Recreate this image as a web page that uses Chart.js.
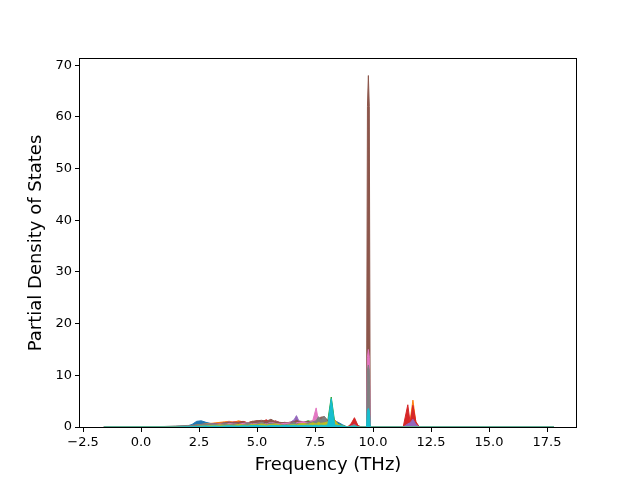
<!DOCTYPE html>
<html>
<head>
<meta charset="utf-8">
<script src="https://cdn.jsdelivr.net/npm/chart.js@4.4.1/dist/chart.umd.min.js"></script>
<style>
  html, body { margin: 0; padding: 0; background: #ffffff; }
  #pdos { display: block; }
</style>
</head>
<body>
<canvas id="pdos" width="640" height="480"></canvas>
<script>
// Frequency grid (THz) shared by every partial DOS curve
const frequencies = [
  -1.6, 1.0, 1.5, 2.0,
  2.2, 2.4, 2.6, 2.8, 3.0,
  3.2, 3.4, 3.6, 3.8, 4.0,
  4.2, 4.4, 4.6, 4.8, 5.0,
  5.2, 5.4, 5.6, 5.8, 6.0,
  6.2, 6.4, 6.6, 6.7, 6.8,
  7.0, 7.2, 7.4, 7.55, 7.65,
  7.75, 7.9, 8.05, 8.2, 8.35,
  8.5, 8.7, 8.9, 9.05, 9.2,
  9.35, 9.5, 9.72, 9.76, 9.8, 9.84, 9.88,
  10.1, 11.3, 11.5, 11.6, 11.72,
  11.85, 12.0, 17.8
];

// Partial density of states, one list per projection
const pdos0 = [0, 0, 0.1, 0.2, 0.5, 1.1, 1.2, 0.9, 0.7, 0.6, 0.8, 0.5, 0.6, 0.7, 0.6, 0.5, 0.7, 0.6, 0.8, 0.7, 0.6, 0.8, 0.7, 0.6, 0.6, 0.5, 0.7, 0.6, 0.5, 0.6, 0.7, 0.8, 0.6, 0.7, 0.8, 0.9, 0.8, 1.0, 1.2, 0.9, 0.4, 0, 0.3, 1.5, 0.2, 0, 0, 0.8, 1.0, 0.8, 0, 0, 0, 0.3, 0.5, 1.2, 0.2, 0, 0];
const pdos1 = [0, 0, 0, 0.05, 0.2, 0.4, 0.5, 0.6, 0.7, 0.8, 0.9, 1.0, 1.1, 0.9, 1.2, 1.0, 0.8, 1.1, 0.9, 1.0, 1.2, 0.9, 1.1, 0.8, 0.9, 0.7, 0.8, 0.6, 0.7, 0.8, 0.9, 0.6, 1.0, 1.2, 0.9, 1.1, 0.8, 1.2, 1.4, 0.5, 0.2, 0, 0.4, 1.2, 0, 0, 0, 0.4, 0.5, 0.4, 0, 0, 0, 1.5, 1.2, 5.2, 0.8, 0, 0];
const pdos2 = [0, 0, 0, 0, 0.1, 0.3, 0.4, 0.5, 0.4, 0.5, 0.6, 0.4, 0.5, 0.6, 0.7, 0.5, 0.6, 0.8, 0.7, 0.9, 0.6, 0.7, 0.8, 0.6, 0.7, 0.6, 0.9, 0.8, 1.0, 0.9, 1.2, 1.0, 0.8, 1.1, 1.2, 0.9, 1.2, 5.8, 0.9, 0.6, 0.2, 0, 0.2, 0.4, 0, 0, 0, 0.2, 0.3, 0.2, 0, 0, 0, 1.0, 0.4, 0.6, 0.1, 0, 0];
const pdos3 = [0, 0, 0, 0, 0.1, 0.2, 0.3, 0.3, 0.4, 0.5, 0.6, 0.7, 0.8, 1.0, 0.9, 1.1, 0.8, 1.0, 1.2, 1.0, 1.4, 0.9, 1.2, 0.8, 0.7, 0.9, 0.8, 1.2, 0.9, 0.8, 1.0, 0.9, 1.6, 1.3, 1.5, 1.8, 1.1, 0.8, 0.9, 0.4, 0.1, 0, 0.6, 1.8, 0.3, 0, 0, 0.5, 0.6, 0.5, 0, 0, 0, 4.3, 0.8, 4.2, 1.0, 0, 0];
const pdos4 = [0, 0, 0, 0, 0.1, 0.3, 0.4, 0.5, 0.6, 0.7, 0.6, 0.8, 1.0, 0.7, 0.8, 0.9, 0.7, 0.8, 0.9, 0.8, 1.0, 0.9, 1.1, 0.8, 0.9, 0.8, 1.4, 2.2, 1.2, 1.0, 0.9, 1.1, 1.3, 1.0, 1.0, 1.1, 0.9, 1.0, 0.8, 0.3, 0.1, 0, 0.2, 0.5, 0, 0, 0, 0.6, 0.8, 0.6, 0, 0, 0, 0.6, 0.8, 1.5, 0.5, 0, 0];
const pdos5 = [0, 0, 0, 0, 0.1, 0.2, 0.3, 0.4, 0.5, 0.6, 0.7, 0.8, 0.9, 0.8, 0.9, 1.0, 0.8, 1.1, 1.2, 1.3, 1.1, 1.5, 1.0, 0.9, 0.8, 0.9, 1.0, 1.3, 1.1, 0.9, 1.0, 1.2, 1.4, 1.6, 1.9, 2.0, 1.3, 0.6, 0.4, 0.2, 0.1, 0, 0.1, 0.3, 0, 0, 0, 62, 68, 62, 0, 0, 0, 0, 0, 0, 0, 0, 0];
const pdos6 = [0, 0, 0, 0, 0.1, 0.2, 0.3, 0.3, 0.4, 0.5, 0.6, 0.5, 0.7, 0.6, 0.5, 0.7, 0.8, 0.6, 0.7, 0.8, 0.6, 0.9, 0.7, 0.6, 0.7, 0.8, 0.6, 0.8, 0.9, 1.0, 0.8, 1.2, 3.7, 1.1, 0.9, 1.0, 0.7, 0.5, 0.4, 0.3, 0, 0, 0.1, 0.2, 0, 0, 0, 13.5, 15, 13.5, 0, 0, 0, 0, 0, 0, 0, 0, 0];
const pdos7 = [0, 0.1, 0.2, 0.3, 0.3, 0.4, 0.4, 0.5, 0.6, 0.5, 0.4, 0.7, 0.5, 0.6, 0.5, 0.4, 0.8, 0.5, 0.6, 0.9, 0.5, 0.8, 0.6, 0.5, 0.4, 0.6, 0.9, 0.6, 0.7, 0.6, 0.8, 1.0, 1.2, 2.0, 1.4, 2.1, 0.8, 0.6, 0.4, 0.3, 0, 0, 0.1, 0.3, 0, 0, 0, 11, 12, 11, 0, 0, 0, 0, 0, 0, 0, 0, 0];
const pdos8 = [0, 0, 0, 0, 0, 0.1, 0.2, 0.2, 0.3, 0.3, 0.4, 0.3, 0.4, 0.3, 0.5, 0.4, 0.3, 0.5, 0.4, 0.6, 0.4, 0.5, 0.6, 0.4, 0.3, 0.4, 0.5, 0.4, 0.6, 0.7, 0.5, 0.8, 0.6, 0.9, 0.7, 0.8, 1.0, 0.9, 1.2, 0.5, 0.2, 0, 0.1, 0.2, 0, 0, 0, 0.4, 0.5, 0.4, 0, 0, 0, 0, 0, 0, 0, 0, 0];
const pdos9 = [0, 0, 0, 0.05, 0.05, 0.1, 0.15, 0.2, 0.15, 0.2, 0.15, 0.2, 0.25, 0.2, 0.2, 0.25, 0.2, 0.3, 0.3, 0.25, 0.2, 0.3, 0.3, 0.25, 0.3, 0.3, 0.35, 0.3, 0.3, 0.3, 0.35, 0.3, 0.35, 0.3, 0.35, 0.3, 0.4, 5.5, 0.4, 0.3, 0.2, 0, 0.1, 0.2, 0, 0, 0, 3.2, 3.6, 3.2, 0, 0, 0, 0, 0, 0, 0, 0, 0];

const series = [pdos0, pdos1, pdos2, pdos3, pdos4, pdos5, pdos6, pdos7, pdos8, pdos9];
const colors = ['#1f77b4', '#ff7f0e', '#2ca02c', '#d62728', '#9467bd',
                '#8c564b', '#e377c2', '#7f7f7f', '#bcbd22', '#17becf'];

// Build the datasets; later series are drawn on top like matplotlib
const datasets = series.map((values, i) => ({
  data: values.map((v, k) => ({ x: frequencies[k], y: v })),
  borderColor: colors[i],
  backgroundColor: colors[i],
  borderWidth: 1,
  pointRadius: 0,
  tension: 0,
  fill: 'origin',
  order: series.length - i
}));

// Axes box around the plot area
const frameBox = {
  id: 'frameBox',
  afterDraw(chart) {
    const { ctx, chartArea: a } = chart;
    ctx.save();
    ctx.strokeStyle = '#000000';
    ctx.lineWidth = 1;
    ctx.strokeRect(a.left - 0.5, a.top - 0.5, a.right - a.left + 1, a.bottom - a.top + 1);
    ctx.restore();
  }
};

const tickFont = { family: 'DejaVu Sans', size: 13 };
const titleFont = { family: 'DejaVu Sans', size: 18 };

new Chart(document.getElementById('pdos'), {
  type: 'line',
  data: { datasets: datasets },
  plugins: [frameBox],
  options: {
    responsive: false,
    animation: false,
    devicePixelRatio: 1,
    layout: { padding: { top: 59, right: 64, left: 0, bottom: 0 } },
    plugins: { legend: { display: false }, tooltip: { enabled: false } },
    scales: {
      x: {
        type: 'linear',
        min: -2.63,
        max: 18.75,
        afterFit(scale) { scale.height = 53; },
        border: { display: false },
        grid: { drawOnChartArea: false, drawTicks: true, tickLength: 5, tickColor: '#000000' },
        ticks: {
          stepSize: 2.5,
          includeBounds: false,
          color: '#000000',
          font: tickFont,
          padding: 3,
          maxRotation: 0,
          callback: v => v.toFixed(1).replace('-', '\u2212')
        },
        title: { display: true, text: 'Frequency (THz)', color: '#000000', font: titleFont, padding: { top: 0, bottom: 4 } }
      },
      y: {
        type: 'linear',
        min: 0,
        max: 71.2,
        afterFit(scale) { scale.width = 80; },
        border: { display: false },
        grid: { drawOnChartArea: false, drawTicks: true, tickLength: 5, tickColor: '#000000' },
        ticks: {
          stepSize: 10,
          includeBounds: false,
          color: '#000000',
          font: tickFont,
          padding: 3,
          callback: v => String(v)
        },
        title: { display: true, text: 'Partial Density of States', color: '#000000', font: titleFont, padding: { top: 26, bottom: 0 } }
      }
    }
  }
});
</script>
</body>
</html>
